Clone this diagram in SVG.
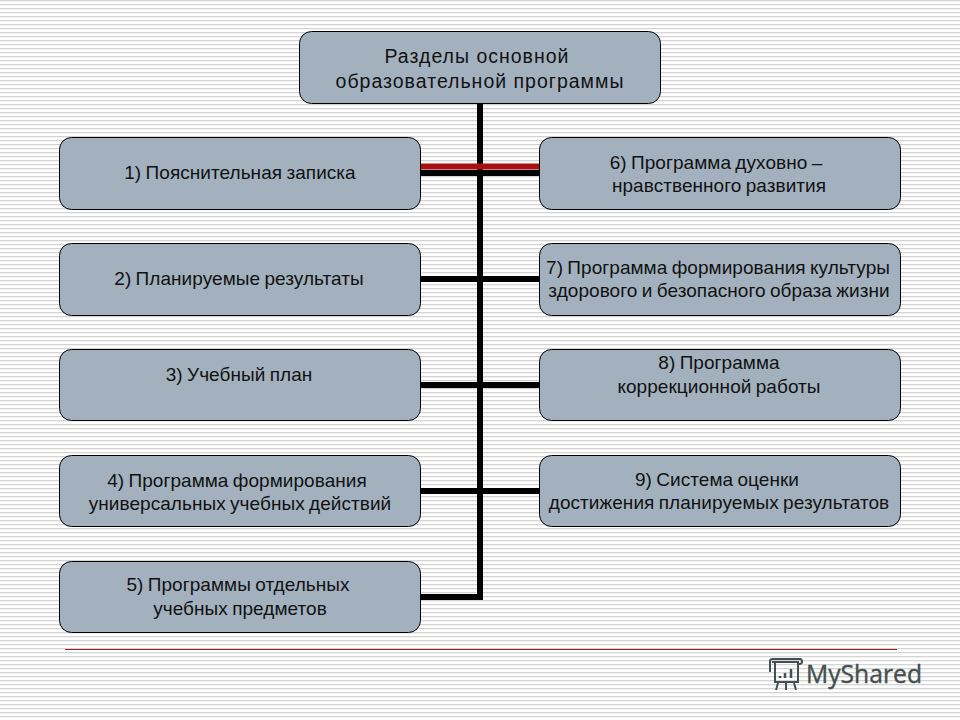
<svg xmlns="http://www.w3.org/2000/svg" width="960" height="720" viewBox="0 0 960 720">
<style>
.n{fill:#a3b1bf;stroke:#000;stroke-width:1}
.t{font-family:"Liberation Sans",Arial,sans-serif;font-size:19px;fill:#111;text-anchor:middle;word-spacing:-1px;letter-spacing:.05px}
.h{font-size:19.500px;letter-spacing:1px;word-spacing:0}
.c{fill:none;stroke:#000;stroke-width:6}
</style>
<defs>
<pattern id="st" width="4" height="4" patternUnits="userSpaceOnUse"><rect width="4" height="4" fill="#fff"/><rect width="4" height="1.3" fill="#d4d4d4"/></pattern>
</defs>
<rect width="960" height="720" fill="url(#st)"/>
<g id="connectors">
<path class="c" d="M480 103V597H421"/>
<path d="M421 166.500H539" fill="none" stroke="#a80f0f" stroke-width="6"/>
<path class="c" d="M421 173H539"/>
<path class="c" d="M421 279H539"/>
<path class="c" d="M421 385H539"/>
<path class="c" d="M421 491H539"/>
</g>
<g id="rule"><path d="M65 649.500H897" stroke="#a02020" stroke-width="1" fill="none"/></g>
<g id="n0"><rect class="n" x="299.500" y="31.500" width="361" height="72" rx="12"/><text class="t h" x="477" y="63">Разделы основной</text><text class="t h" x="480" y="88">образовательной программы</text></g>
<g id="n1"><rect class="n" x="59.500" y="137.500" width="361" height="72" rx="12"/><text class="t" x="240" y="179">1) Пояснительная записка</text></g>
<g id="n2"><rect class="n" x="59.500" y="243.500" width="361" height="72" rx="12"/><text class="t" x="239" y="285">2) Планируемые результаты</text></g>
<g id="n3"><rect class="n" x="59.500" y="349.500" width="361" height="71" rx="12"/><text class="t" x="239" y="381">3) Учебный план</text></g>
<g id="n4"><rect class="n" x="59.500" y="455.500" width="361" height="71" rx="12"/><text class="t" x="237" y="487">4) Программа формирования</text><text class="t" x="240" y="510">универсальных учебных действий</text></g>
<g id="n5"><rect class="n" x="59.500" y="561.500" width="361" height="71" rx="12"/><text class="t" x="238" y="591">5) Программы отдельных</text><text class="t" x="240" y="615">учебных предметов</text></g>
<g id="n6"><rect class="n" x="539.500" y="137.500" width="361" height="72" rx="12"/><text class="t" x="716" y="169">6) Программа духовно –</text><text class="t" x="719" y="192">нравственного развития</text></g>
<g id="n7"><rect class="n" x="539.500" y="243.500" width="361" height="72" rx="12"/><text class="t" x="718" y="274">7) Программа формирования культуры</text><text class="t" x="719" y="297">здорового и безопасного образа жизни</text></g>
<g id="n8"><rect class="n" x="539.500" y="349.500" width="361" height="71" rx="12"/><text class="t" x="719" y="369">8) Программа</text><text class="t" x="719" y="393">коррекционной работы</text></g>
<g id="n9"><rect class="n" x="539.500" y="455.500" width="361" height="71" rx="12"/><text class="t" x="717" y="486">9) Система оценки</text><text class="t" x="719" y="509">достижения планируемых результатов</text></g>
<g id="logo" fill="none" stroke="#445050">
<path d="M772 662H799M775 662V682H798V662M770 672V661Q770 659 773 659H800Q802 659 802 662Q802 664 799 664M778 683L776 690M786 683V690M794 683L796 690" stroke-width="2"/>
<path d="M780 678V676M785 678V673M791 678V669" stroke-width="2.500"/>
<text x="806" y="683" font-family="'Open Sans','Liberation Sans',sans-serif" font-size="24.700" stroke-width=".4" fill="#445050" stroke="#445050">MyShared</text>
</g>
</svg>
